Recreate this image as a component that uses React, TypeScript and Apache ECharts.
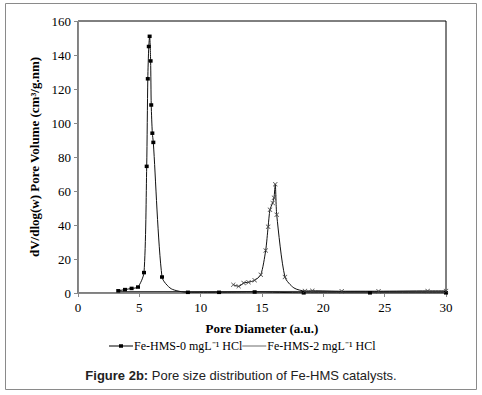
import React, { useEffect, useRef } from "react";
import * as echarts from "echarts";

const xTicks = [0, 5, 10, 15, 20, 25, 30];
const yTicks = [0, 20, 40, 60, 80, 100, 120, 140, 160];

const seriesNames = ["Fe-HMS-0 mgL\u207B\u00B9 HCl", "Fe-HMS-2 mgL\u207B\u00B9 HCl"];

// Fe-HMS-0 (square markers) [pore diameter, dV/dlog(w)]
const hms0: [number, number][] = [
  [3.28, 1.3], [3.83, 2.0], [4.37, 2.7], [4.89, 3.5], [5.38, 12], [5.6, 74.5],
  [5.69, 126], [5.77, 145], [5.84, 151], [5.92, 136.5], [5.97, 110.6], [6.06, 94],
  [6.14, 88.6], [6.85, 9.4], [7.6, 2.5], [8.96, 0.4], [11.5, 0.4], [14.4, 0.6],
  [18.4, 0.1], [23.8, 0.1], [30, 0.1],
];
// points of Fe-HMS-0 that carry no marker (curve only)
const hms0Unmarked = [7.6];

// Fe-HMS-2 (small cross markers)
const hms2: [number, number][] = [
  [12.66, 4.9], [13.1, 3.9], [13.5, 5.9], [13.9, 6.3], [14.4, 7.5], [14.9, 10.7],
  [15.3, 25], [15.5, 39], [15.65, 49], [15.87, 53], [15.98, 56], [16.08, 64],
  [16.2, 46], [16.87, 9.4], [17.6, 3], [18.5, 1.2], [19.1, 1.3], [21.5, 1.0],
  [24.5, 1.0], [28.5, 1.2], [30, 1.2],
];
const hms2Unmarked = [17.6];

// flat baseline trace near zero
const baseline: [number, number][] = [[3.28, 0.8], [30, 1.0]];

export default function App() {
  const ref = useRef<HTMLDivElement>(null);
  useEffect(() => {
    if (!ref.current) return;
    const chart = echarts.init(ref.current, undefined, { renderer: "svg" });
    const serif = "Liberation Serif";
    const mark = (arr: [number, number][], skip: number[]) =>
      arr.map((p) => (skip.includes(p[0]) ? { value: p, symbol: "none" } : { value: p }));
    chart.setOption({
      animation: false,
      backgroundColor: "#fff",
      grid: {
        left: 78,
        right: 36,
        top: 21,
        bottom: 102,
        show: true,
        borderColor: "#000",
        borderWidth: 1,
        containLabel: false,
      },
      graphic: [
        {
          type: "rect",
          shape: { x: 5.5, y: 3.5, width: 471, height: 386 },
          style: { fill: "none", stroke: "#8a8a8a", lineWidth: 1 },
          silent: true,
        },
        {
          type: "text",
          x: 241,
          y: 375,
          style: {
            rich: {
              b: { fontFamily: "Liberation Sans", fontSize: 13, fontWeight: "bold", fill: "#222" },
              n: { fontFamily: "Liberation Sans", fontSize: 13, fill: "#222" },
            },
            text: "{b|Figure 2b:}{n| Pore size distribution of Fe-HMS catalysts.}",
            align: "center",
            verticalAlign: "middle",
          },
        },
      ],
      legend: {
        bottom: 38,
        left: 104,
        itemWidth: 24,
        itemHeight: 8,
        itemGap: 0,
        textStyle: { fontFamily: serif, fontSize: 12, color: "#000", padding: [0, 0, 0, -4] },
        data: [
          { name: seriesNames[0], icon: "path://M0,3.6L24,3.6L24,4.4L0,4.4Z M10,2.3L14,2.3L14,5.7L10,5.7Z" },
          { name: seriesNames[1], icon: "path://M0,3.6L24,3.6L24,4.4L0,4.4Z" },
        ],
      },
      xAxis: {
        type: "value",
        min: 0,
        max: 30,
        interval: 5,
        name: "Pore Diameter (a.u.)",
        nameLocation: "middle",
        nameGap: 29,
        nameTextStyle: { fontFamily: serif, fontSize: 13, fontWeight: "bold", color: "#000" },
        axisLine: { show: true, onZero: false, lineStyle: { color: "#888", width: 1 } },
        axisTick: { show: true, inside: false, length: 4, lineStyle: { color: "#888" } },
        axisLabel: {
          fontFamily: serif, fontSize: 13, color: "#000", margin: 8,
          formatter: (v: number) => (xTicks.includes(v) ? String(v) : ""),
        },
        splitLine: { show: false },
      },
      yAxis: {
        type: "value",
        min: 0,
        max: 160,
        interval: 20,
        name: "dV/dlog(w) Pore Volume (cm\u00B3/g.nm)",
        nameLocation: "middle",
        nameGap: 33,
        nameTextStyle: { fontFamily: serif, fontSize: 13, fontWeight: "bold", color: "#000" },
        axisLine: { show: true, lineStyle: { color: "#888", width: 1 } },
        axisTick: { show: true, inside: false, length: 4, lineStyle: { color: "#888" } },
        axisLabel: {
          fontFamily: serif, fontSize: 13, color: "#000", margin: 7,
          formatter: (v: number) => (yTicks.includes(v) ? String(v) : ""),
        },
        splitLine: { show: false },
      },
      series: [
        {
          name: "baseline",
          type: "line",
          data: baseline,
          symbol: "none",
          lineStyle: { color: "#333", width: 1 },
          silent: true,
        },
        {
          name: seriesNames[0],
          type: "line",
          data: mark(hms0, hms0Unmarked),
          smooth: 0.25,
          symbol: "rect",
          symbolSize: [4, 3.5],
          itemStyle: { color: "#000" },
          lineStyle: { color: "#111", width: 1 },
        },
        {
          name: seriesNames[1],
          type: "line",
          data: mark(hms2, hms2Unmarked),
          smooth: 0.25,
          symbol: "path://M0,0L1,0L5,4L9,0L10,0L10,1L6,5L10,9L10,10L9,10L5,6L1,10L0,10L0,9L4,5L0,1Z",
          symbolSize: 4.5,
          itemStyle: { color: "#444" },
          lineStyle: { color: "#111", width: 1 },
        },
      ],
    });
    return () => chart.dispose();
  }, []);
  return <div ref={ref} style={{ width: 482, height: 395, position: "absolute", left: 0, top: 0 }} />;
}
